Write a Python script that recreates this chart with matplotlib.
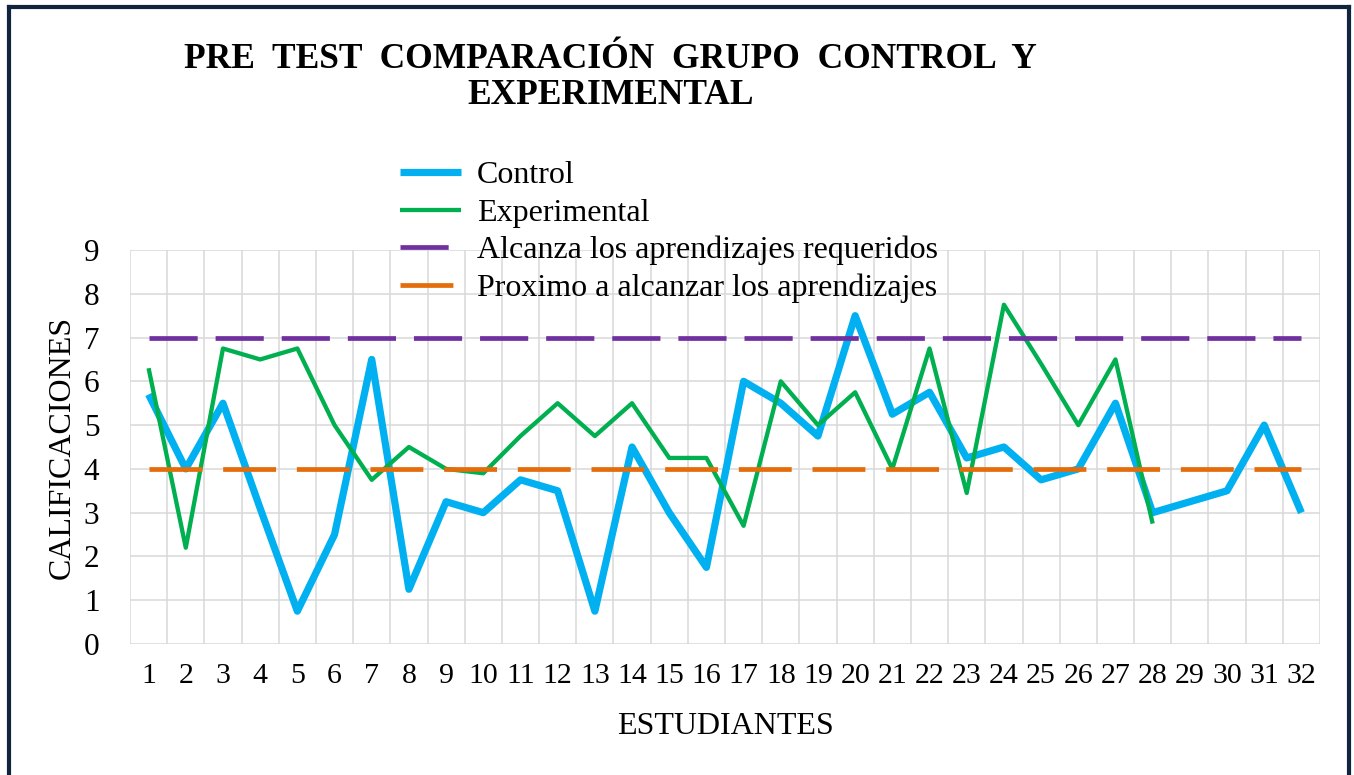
import matplotlib
matplotlib.use("Agg")
import matplotlib.pyplot as plt
from matplotlib.lines import Line2D

# ---- data ----
students = list(range(1, 33))
control = [5.7, 4.0, 5.5, 3.1, 0.75, 2.5, 6.5, 1.25, 3.25, 3.0, 3.75, 3.5, 0.75, 4.5,
           3.0, 1.75, 6.0, 5.5, 4.75, 7.5, 5.25, 5.75, 4.25, 4.5, 3.75, 4.0, 5.5, 3.0,
           3.25, 3.5, 5.0, 3.0]
experimental = [6.3, 2.2, 6.75, 6.5, 6.75, 5.0, 3.75, 4.5, 4.0, 3.9, 4.75, 5.5, 4.75, 5.5,
                4.25, 4.25, 2.7, 6.0, 5.0, 5.75, 4.0, 6.75, 3.45, 7.75, 6.4, 5.0, 6.5, 2.75]
alcanza = [7] * 32
proximo = [4] * 32
x_labels = [str(s) for s in students]
y_ticks = list(range(0, 10))

series_names = ["Control", "Experimental", "Alcanza los aprendizajes requeridos",
                "Proximo a alcanzar los aprendizajes"]

plt.rcParams['font.family'] = ['Liberation Serif', 'DejaVu Serif']

W, H = 1354, 775
fig = plt.figure(figsize=(W / 100, H / 100), dpi=100)
ax = fig.add_axes([130 / W, 1 - 644 / H, (1320 - 130) / W, (644 - 250) / H])

ax.plot(students, control, color="#00B0F0", lw=5.2, solid_joinstyle="round",
        solid_capstyle="butt", label=series_names[0], zorder=3)
ax.plot(students[:len(experimental)], experimental, color="#00B050", lw=3.1,
        solid_joinstyle="round", solid_capstyle="butt", label=series_names[1], zorder=4)
ax.plot(students, alcanza, color="#7030A0", lw=3.4, dashes=(10.2, 3.8),
        dash_capstyle="butt", label=series_names[2], zorder=5)
ax.plot(students, proximo, color="#E46C0A", lw=3.4, dashes=(11.2, 4.4),
        dash_capstyle="butt", label=series_names[3], zorder=5)

ax.set_xlim(0.5, 32.5)
ax.set_ylim(0, 9)
ax.set_xticks(students)
ax.set_xticklabels(x_labels)
ax.set_xticks([s + 0.5 for s in [0] + students], minor=True)
ax.set_yticks(y_ticks)
ax.tick_params(axis="both", which="both", length=0)
ax.tick_params(axis="y", labelsize=22.5, pad=22)
ax.tick_params(axis="x", labelsize=21.5, pad=14)
ax.grid(False)
ax.yaxis.grid(True, color="#D9D9D9", lw=1.1, zorder=0)
ax.xaxis.grid(True, which="minor", color="#D9D9D9", lw=1.1, zorder=0)
for sp in ax.spines.values():
    sp.set_visible(False)
ax.set_axisbelow(True)

fig.text(610 / W, 1 - 68 / H, "PRE  TEST  COMPARACIÓN  GRUPO  CONTROL  Y",
         ha="center", va="baseline", fontsize=25.5, fontweight="bold")
fig.text(611 / W, 1 - 104 / H, "EXPERIMENTAL",
         ha="center", va="baseline", fontsize=25.5, fontweight="bold")

fig.text(62 / W, 1 - 447 / H, "CALIFICACIONES", rotation=90, ha="center", va="center",
         fontsize=23)
fig.text(725 / W, 1 - 727 / H, "ESTUDIANTES", ha="center", va="center", fontsize=23)

fig.legend(loc="upper left", bbox_to_anchor=(400 / W, 1 - 161 / H), frameon=False,
           fontsize=23, handlelength=1.9, handletextpad=0.5, labelspacing=0.25,
           borderpad=0, borderaxespad=0)

# frame border
bc = "#10243E"
blw = 3.0
fig.add_artist(Line2D([9 / W, 9 / W], [0, 1 - 7 / H], color=bc, lw=blw, transform=fig.transFigure))
fig.add_artist(Line2D([1349 / W, 1349 / W], [0, 1 - 7 / H], color=bc, lw=blw, transform=fig.transFigure))
fig.add_artist(Line2D([9 / W, 1349 / W], [1 - 7 / H, 1 - 7 / H], color=bc, lw=blw,
                      transform=fig.transFigure, solid_capstyle="projecting"))

fig.savefig("out.png", dpi=100)
